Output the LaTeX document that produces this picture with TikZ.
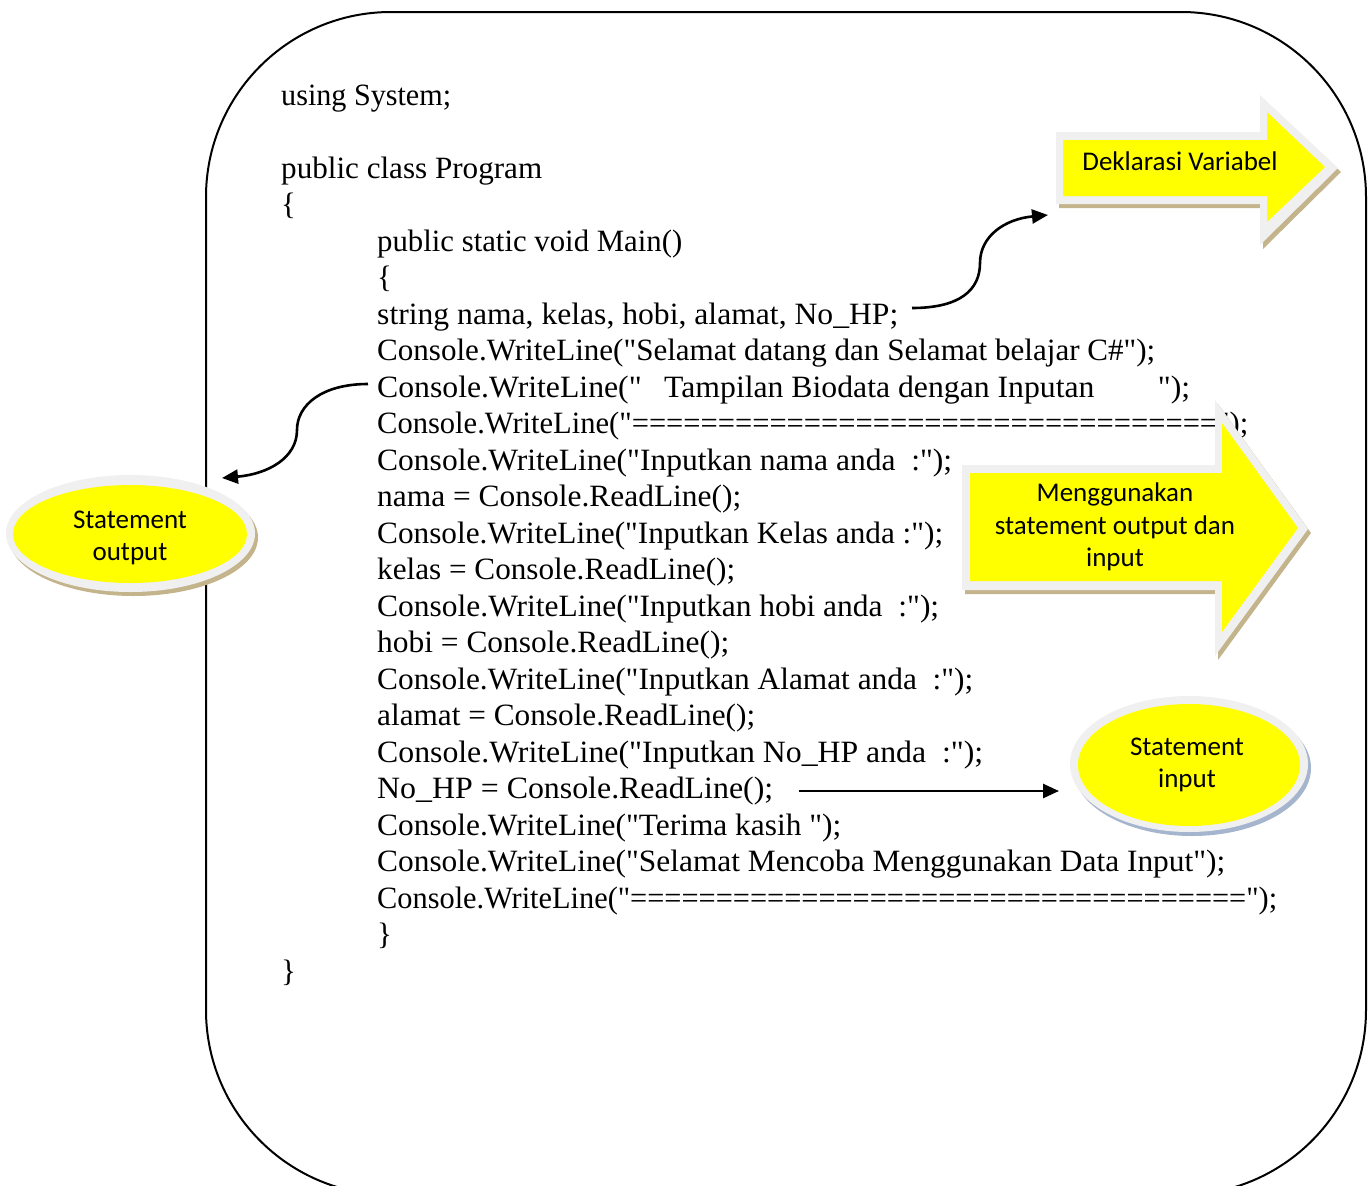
\documentclass[tikz,border=0pt]{standalone}
\usepackage{fontspec}
\setmainfont{Liberation Serif}[Ligatures=TeXOff]
\newfontfamily\labelfont{Carlito}
\usetikzlibrary{arrows.meta}

\definecolor{calloutyellow}{HTML}{FFFF00}
\definecolor{glowgray}{HTML}{F0F0F0}
\definecolor{shadowtan}{HTML}{C4B48C}
\definecolor{shadowblue}{HTML}{A5B5CD}

\tikzset{
  codeline/.style={anchor=base west, inner sep=0pt, font=\fontsize{31}{37}\selectfont},
  calloutlabel/.style={align=center, inner sep=0pt, font=\labelfont\fontsize{27}{32.5}\selectfont},
  pointer/.style={line width=2.6pt, -{Triangle[length=16pt,width=14pt]}},
  frame/.style={line width=2pt, rounded corners=185pt},
}
% one line of code, stretched horizontally to a given width (in pt)
\newcommand\codefit[2]{\resizebox{#1pt}{\height}{#2}}

\begin{document}
\begin{tikzpicture}[x=1pt,y=-1pt]
\useasboundingbox (0,0) rectangle (1369,1186);
\clip (0,0) rectangle (1369,1186);

% outer rounded frame
\draw[frame] (206,12) rectangle (1366,1195);

% program listing
\node[codeline] (l0)  at (281,105)   {\codefit{170}{using System;}};
\node[codeline] (l2)  at (281,178)   {\codefit{261}{public class Program}};
\node[codeline] (l3)  at (281,214.5) {\{};
\node[codeline] (l4)  at (377,251)   {\codefit{305}{public static void Main()}};
\node[codeline] (l5)  at (377,287.5) {\{};
\node[codeline] (l6)  at (377,324)   {\codefit{521}{string nama, kelas, hobi, alamat, No\_HP;}};
\node[codeline] (l7)  at (377,360.5) {\codefit{778}{Console.WriteLine("Selamat datang dan Selamat belajar C\#");}};
\node[codeline] (l8)  at (377,397)   {\codefit{813}{Console.WriteLine("\hspace{22pt}Tampilan Biodata dengan Inputan\hspace{62pt}");}};
\node[codeline] (l9)  at (377,433.5) {\codefit{871}{Console.WriteLine("==================================");}};
\node[codeline] (l10) at (377,470)   {\codefit{575}{Console.WriteLine("Inputkan nama anda~ :");}};
\node[codeline] (l11) at (377,506.5) {\codefit{364}{nama = Console.ReadLine();}};
\node[codeline] (l12) at (377,543)   {\codefit{566}{Console.WriteLine("Inputkan Kelas anda :");}};
\node[codeline] (l13) at (377,579.5) {\codefit{358}{kelas = Console.ReadLine();}};
\node[codeline] (l14) at (377,616)   {\codefit{562}{Console.WriteLine("Inputkan hobi anda~ :");}};
\node[codeline] (l15) at (377,652.5) {\codefit{352}{hobi = Console.ReadLine();}};
\node[codeline] (l16) at (377,689)   {\codefit{596}{Console.WriteLine("Inputkan Alamat anda~ :");}};
\node[codeline] (l17) at (377,725.5) {\codefit{378}{alamat = Console.ReadLine();}};
\node[codeline] (l18) at (377,762)   {\codefit{606}{Console.WriteLine("Inputkan No\_HP anda~ :");}};
\node[codeline] (l19) at (377,798.5) {\codefit{396}{No\_HP = Console.ReadLine();}};
\node[codeline] (l20) at (377,835)   {\codefit{464}{Console.WriteLine("Terima kasih ");}};
\node[codeline] (l21) at (377,871.5) {\codefit{848}{Console.WriteLine("Selamat Mencoba Menggunakan Data Input");}};
\node[codeline] (l22) at (377,908)   {\codefit{900}{Console.WriteLine("====================================");}};
\node[codeline] (l23) at (377,944.5) {\}};
\node[codeline] (l24) at (281,981)   {\}};

% block arrow: Deklarasi Variabel
\fill[shadowtan, shift={(3,4)}] (1056,132) -- (1260,132) -- (1260,95) -- (1338,168) -- (1260,245) -- (1260,204) -- (1056,204) -- cycle;
\fill[glowgray] (1056,132) -- (1260,132) -- (1260,95) -- (1338,168) -- (1260,245) -- (1260,204) -- (1056,204) -- cycle;
\fill[calloutyellow] (1063,140) -- (1267,140) -- (1267,112) -- (1325,167) -- (1267,222) -- (1267,196) -- (1063,196) -- cycle;
\node[calloutlabel] (decl) at (1180,161) {Deklarasi Variabel};

% block arrow: statement output dan input
\fill[shadowtan, shift={(3,4)}] (962,465) -- (1215,465) -- (1215,400) -- (1308,529) -- (1215,656) -- (1215,590) -- (962,590) -- cycle;
\fill[glowgray] (962,465) -- (1215,465) -- (1215,400) -- (1308,529) -- (1215,656) -- (1215,590) -- (962,590) -- cycle;
\fill[calloutyellow] (970,473) -- (1222,473) -- (1222,423) -- (1298,528) -- (1222,632) -- (1222,581) -- (970,581) -- cycle;
\node[calloutlabel] (usage) at (1115,527) {Menggunakan\\statement output dan\\input};

% ellipse: Statement output
\fill[shadowtan] (133.5,537.5) ellipse [x radius=124.5, y radius=58.5];
\fill[glowgray] (130.5,533.5) ellipse [x radius=124.5, y radius=58.5];
\fill[calloutyellow] (130,534) ellipse [x radius=117, y radius=49];
\node[calloutlabel] (outlbl) at (130,538) {Statement\\output};

% ellipse: Statement input
\fill[shadowblue] (1192,768) ellipse [x radius=119, y radius=68];
\fill[glowgray] (1189,764) ellipse [x radius=119, y radius=68];
\fill[calloutyellow] (1189,765) ellipse [x radius=111, y radius=61];
\node[calloutlabel] (inlbl) at (1187,765) {Statement\\input};

% pointers
\coordinate (declStart) at (912,308);
\coordinate (declTip) at (1048,215);
\draw[pointer] (declStart) .. controls (960,308) and (980,290) .. (980,263)
  .. controls (980,236) and (1005,219) .. (declTip);

\coordinate (outStart) at (368,384);
\coordinate (outTip) at (222,478);
\draw[pointer] (outStart) .. controls (322,384) and (297,405) .. (297,430)
  .. controls (297,458) and (268,474) .. (outTip);

\coordinate (inStart) at (799,791);
\coordinate (inTip) at (1059,791);
\draw[pointer] (inStart) -- (inTip);
\end{tikzpicture}
\end{document}
